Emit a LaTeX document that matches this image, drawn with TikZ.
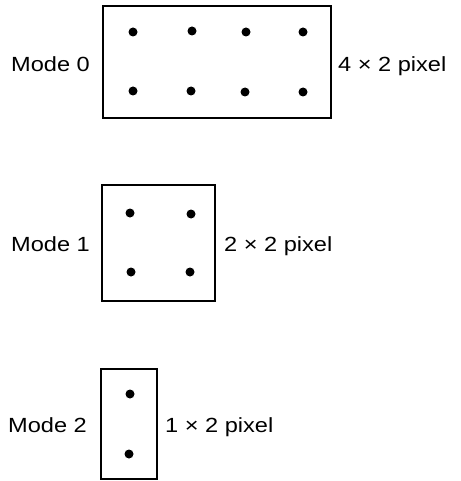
\documentclass[tikz,border=0pt]{standalone}
\usepackage{fontspec}
\setmainfont[FakeStretch=1.15]{Liberation Sans}
\begin{document}
\begin{tikzpicture}[x=1pt,y=-1pt,
  frame/.style={draw,line width=1.4pt},
  lbl/.style={inner sep=0pt,anchor=base west,font=\fontsize{20.5}{24}\selectfont},
  dot/.style={circle,fill,inner sep=0pt,minimum size=9pt}]
\useasboundingbox (0,0) rectangle (460,481);
% Mode 0: 4 x 2 grid
\draw[frame] (103,6) rectangle (331,118);
\node[lbl] (m0) at (11,72) {Mode 0};
\node[lbl] (s0) at (338,72) {4 × 2 pixel};
\foreach \x/\y [count=\i] in {133/32,192/31,246/32,303/32,133/91,191/91,245/92,303/92}
  \node[dot] (d0-\i) at (\x,\y) {};
% Mode 1: 2 x 2 grid
\draw[frame] (102,185) rectangle (215,301);
\node[lbl] (m1) at (11,251) {Mode 1};
\node[lbl] (s1) at (224,251) {2 × 2 pixel};
\foreach \x/\y [count=\i] in {130/213,191/214,131/272,190/272}
  \node[dot] (d1-\i) at (\x,\y) {};
% Mode 2: 1 x 2 grid
\draw[frame] (101,369) rectangle (157,479);
\node[lbl] (m2) at (8,432) {Mode 2};
\node[lbl] (s2) at (165,432) {1 × 2 pixel};
\foreach \x/\y [count=\i] in {130/394,129/454}
  \node[dot] (d2-\i) at (\x,\y) {};
\end{tikzpicture}
\end{document}
